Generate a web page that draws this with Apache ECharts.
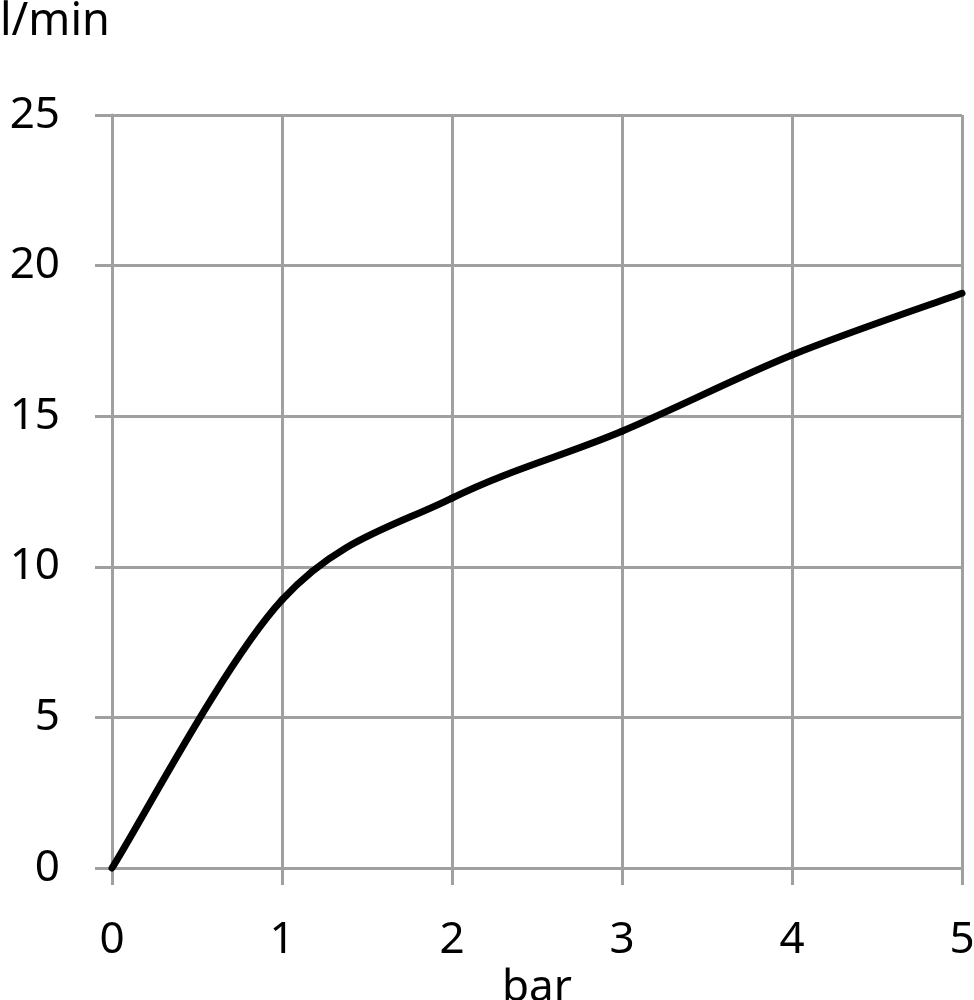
<!DOCTYPE html>
<html>
<head>
<meta charset="utf-8">
<script src="https://cdn.jsdelivr.net/npm/echarts@6/dist/echarts.min.js"></script>
<style>html,body{margin:0;padding:0;background:#fff;overflow:hidden}#c{width:974px;height:1000px}</style>
</head>
<body>
<div id="c"></div>
<script>
// measured points (pressure in bar, flow in l/min)
const pressureBar = [0, 1, 2, 3, 4, 5];
const flowLmin   = [0, 8.9, 12.28, 14.5, 17.03, 19.08];
const xTicks = [0, 1, 2, 3, 4, 5];
const yTicks = [0, 5, 10, 15, 20, 25];

const FONT = '"Noto Sans", sans-serif';
const GRID = '#a0a0a0';
const el = document.getElementById('c');
const chart = echarts.init(el, null, {renderer: 'canvas'});

const points = pressureBar.map((x, i) => [x, flowLmin[i]]);

// spreadsheet-style smoothed line: cubic Bezier with tangents (next - prev) / 6
function renderSegment(params, api) {
  const i = params.dataIndex;
  const n = points.length;
  if (i >= n - 1) return null;
  const P = k => api.coord(points[Math.max(0, Math.min(n - 1, k))]);
  const p0 = P(i - 1), p1 = P(i), p2 = P(i + 1), p3 = P(i + 2);
  const c1 = [p1[0] + (p2[0] - p0[0]) / 6, p1[1] + (p2[1] - p0[1]) / 6];
  const c2 = [p2[0] - (p3[0] - p1[0]) / 6, p2[1] - (p3[1] - p1[1]) / 6];
  return {
    type: 'bezierCurve',
    shape: {x1: p1[0], y1: p1[1], cpx1: c1[0], cpy1: c1[1], cpx2: c2[0], cpy2: c2[1], x2: p2[0], y2: p2[1]},
    style: {stroke: '#000', lineWidth: 7, fill: null, lineCap: 'round', lineJoin: 'round'}
  };
}

chart.setOption({
  animation: false,
  backgroundColor: '#fff',
  grid: {left: 112, right: 12, top: 115, bottom: 132, containLabel: false, outerBoundsMode: 'none'},
  graphic: [{
    type: 'text', left: 0, top: 0,
    style: {text: 'l/min', font: '45px ' + FONT, fill: '#000'}
  }],
  xAxis: {
    type: 'value', min: xTicks[0], max: xTicks[xTicks.length - 1], interval: 1,
    name: 'bar', nameLocation: 'middle', nameGap: 90,
    nameTextStyle: {fontFamily: FONT, fontSize: 44, color: '#000'},
    axisLine: {show: true, lineStyle: {color: GRID, width: 3}},
    axisTick: {show: true, length: 17, lineStyle: {color: GRID, width: 3}},
    axisLabel: {margin: 50, fontFamily: FONT, fontSize: 44, color: '#000'},
    splitLine: {show: true, lineStyle: {color: GRID, width: 3}}
  },
  yAxis: {
    type: 'value', min: yTicks[0], max: yTicks[yTicks.length - 1], interval: 5,
    axisLine: {show: true, lineStyle: {color: GRID, width: 3}},
    axisTick: {show: true, length: 17, lineStyle: {color: GRID, width: 3}},
    axisLabel: {margin: 52, fontFamily: FONT, fontSize: 44, color: '#000'},
    splitLine: {show: true, lineStyle: {color: GRID, width: 3}}
  },
  series: [{
    type: 'custom',
    coordinateSystem: 'cartesian2d',
    data: points,
    encode: {x: 0, y: 1},
    clip: false,
    renderItem: renderSegment
  }]
});
</script>
</body>
</html>
